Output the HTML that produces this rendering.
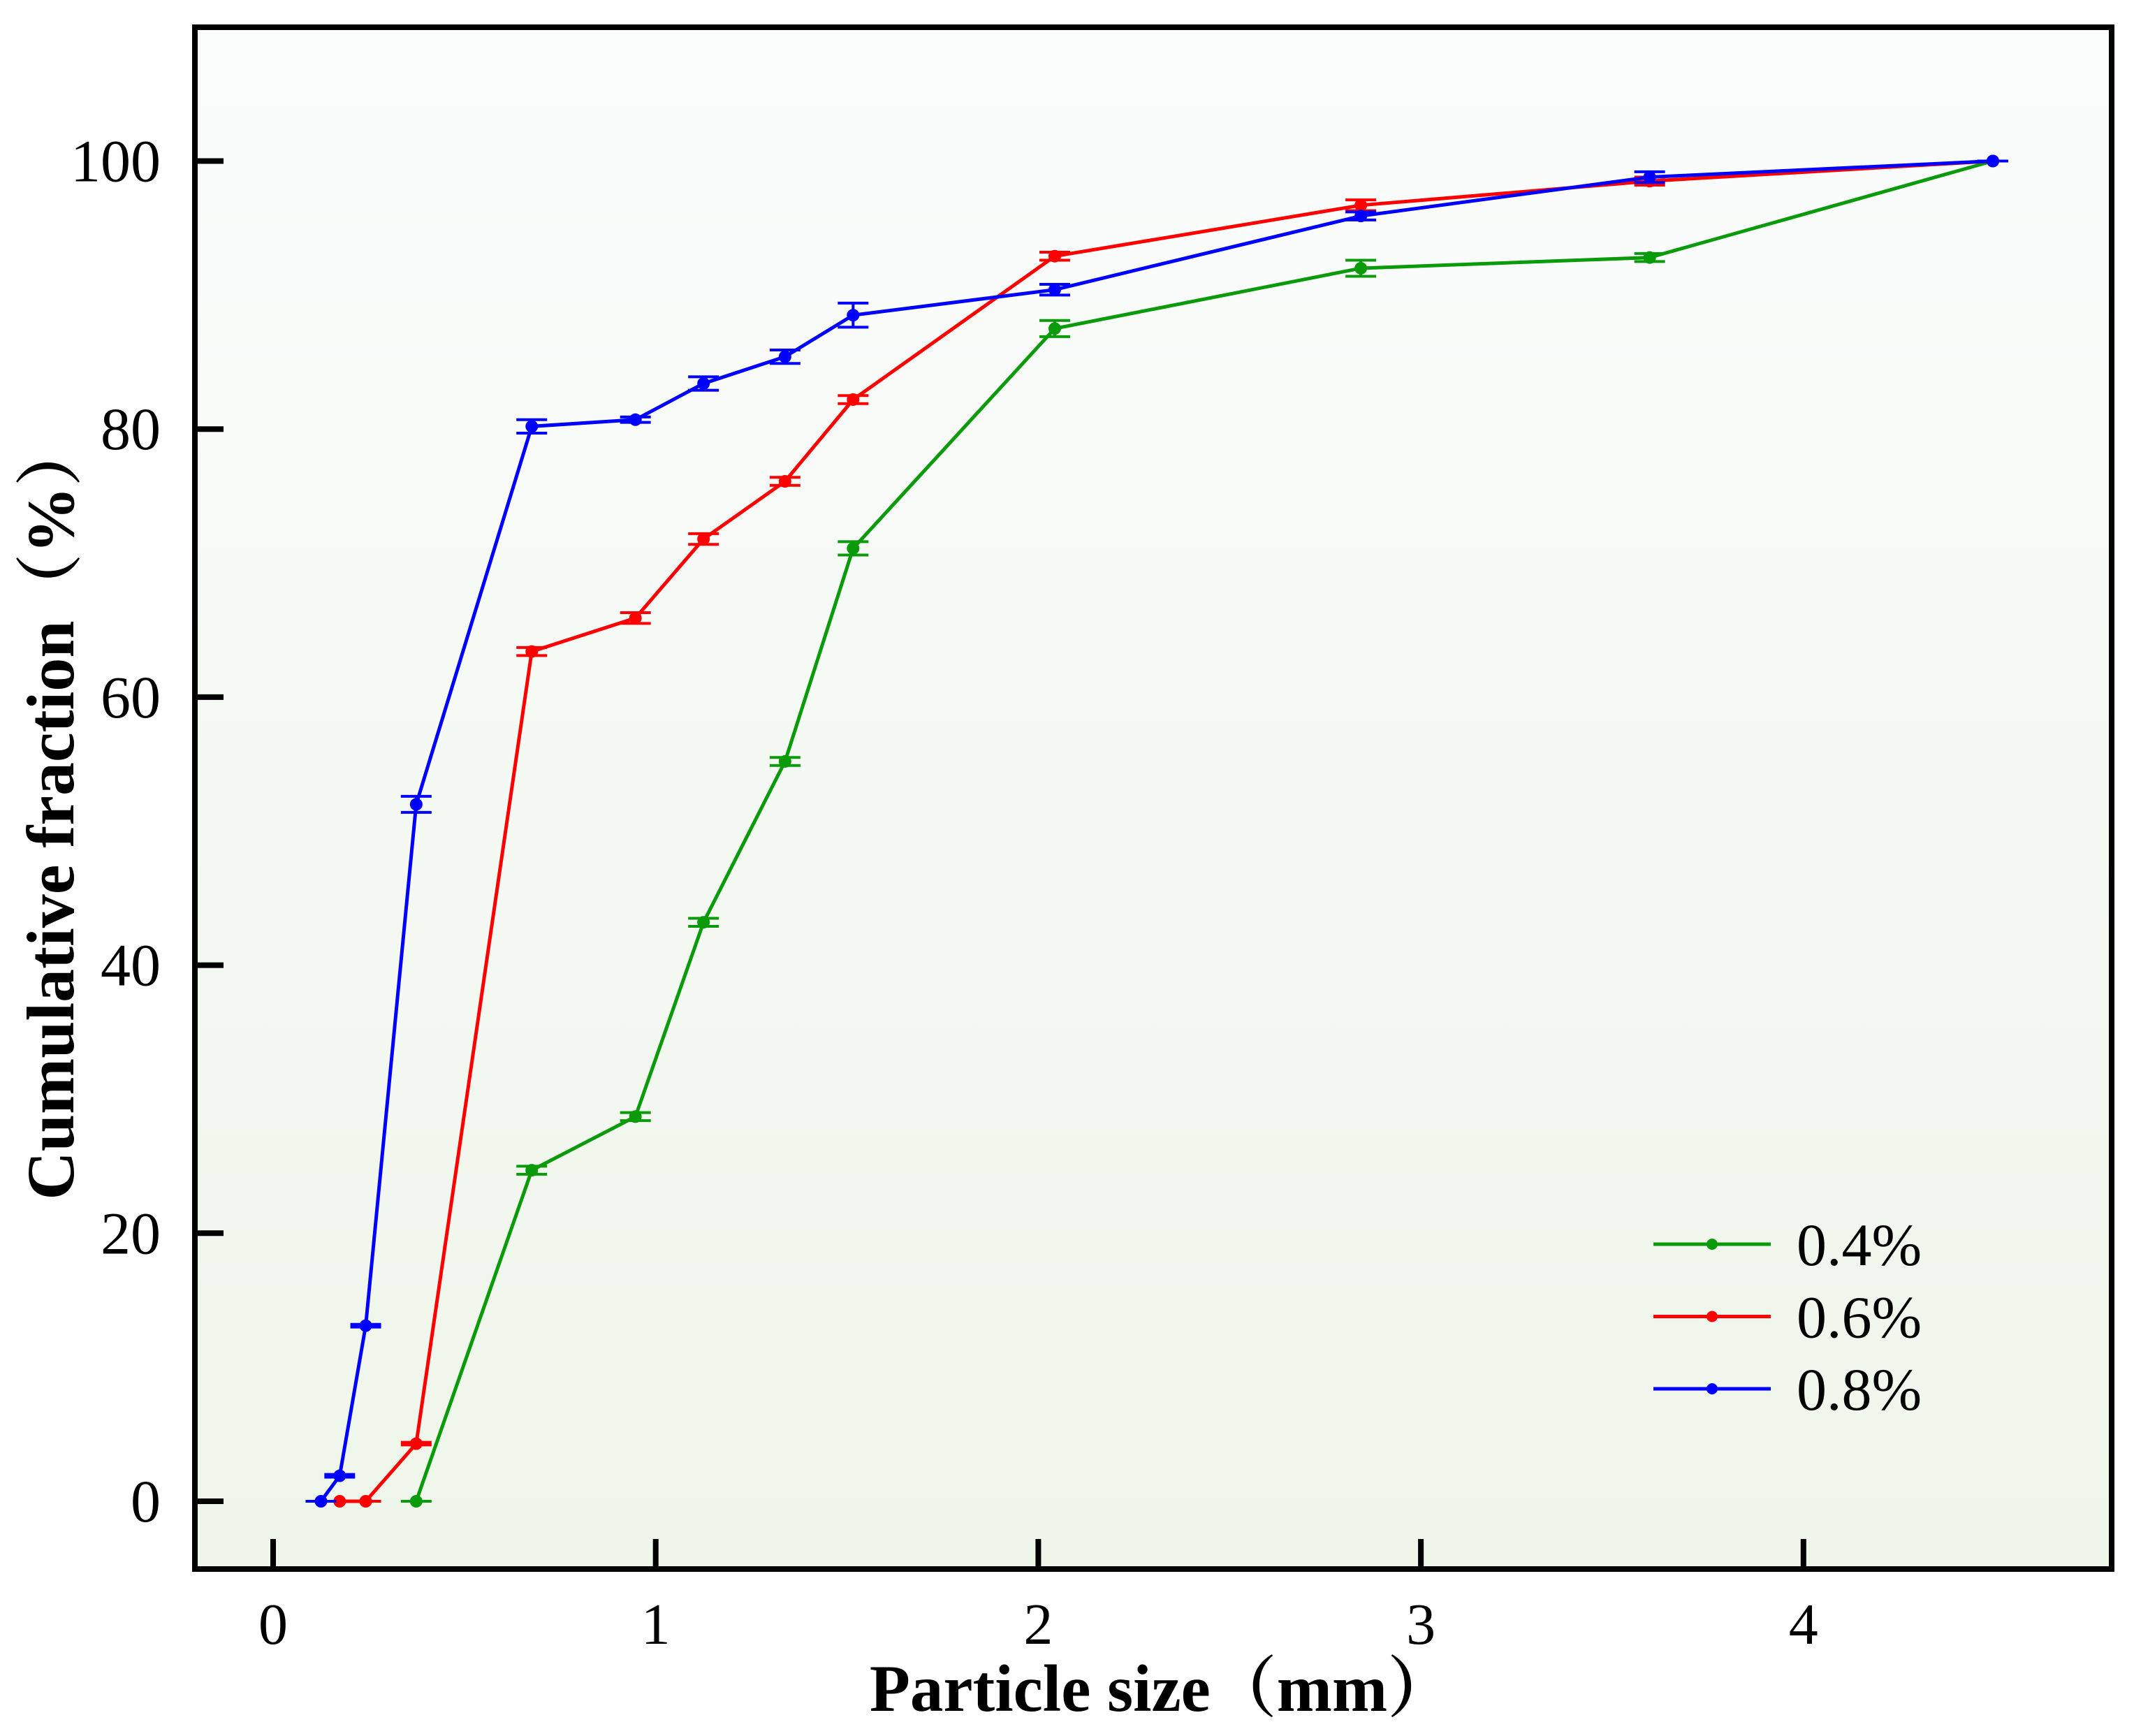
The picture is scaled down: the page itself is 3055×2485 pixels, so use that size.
<!DOCTYPE html>
<html><head><meta charset="utf-8"><style>
html,body{margin:0;padding:0;background:#fff;}
svg{display:block;}
text{font-family:"Liberation Serif","Noto Serif CJK SC",serif;}
</style></head><body>
<svg id="chart" width="3055" height="2485" viewBox="0 0 3055 2485" xmlns="http://www.w3.org/2000/svg">
<defs><linearGradient id="bg" x1="0" y1="0" x2="0" y2="1"><stop offset="0" stop-color="#fbfdfd"/><stop offset="1" stop-color="#eef5e9"/></linearGradient></defs>
<rect x="279" y="39" width="2744" height="2207" fill="url(#bg)"/>
<g id="marks"></g>
<g id="axes"></g>
<rect x="279" y="39" width="2744" height="2207" fill="none" stroke="#000" stroke-width="8"/>
<text x="1663" y="2449" font-size="95" font-weight="bold" text-anchor="middle">Particle size（mm）</text>
<text transform="translate(105,1159) rotate(-90)" font-size="96" font-weight="bold" text-anchor="middle">Cumulative fraction（%）</text>
<g id="legend"></g>
</svg>
<script>
const seriesNames = ["0.4%", "0.6%", "0.8%"];
const seriesColors = ["#0a9a0a", "#ff0000", "#0000ff"];
const xTicks = [0, 1, 2, 3, 4];
const yTicks = [0, 20, 40, 60, 80, 100];
const greenX = [0.374, 0.676, 0.947, 1.125, 1.338, 1.516, 2.043, 2.843, 3.598, 4.495];
const greenY = [0, 24.7, 28.7, 43.2, 55.2, 71.1, 87.5, 92.0, 92.8, 100];
const greenErr = [0, 0.3, 0.3, 0.3, 0.3, 0.5, 0.6, 0.6, 0.3, 0];
const redX = [0.174, 0.242, 0.374, 0.676, 0.947, 1.125, 1.338, 1.516, 2.043, 2.843, 3.598, 4.495];
const redY = [0, 0, 4.3, 63.4, 65.9, 71.8, 76.1, 82.2, 92.9, 96.7, 98.5, 100];
const redErr = [0, 0, 0.1, 0.3, 0.4, 0.4, 0.3, 0.3, 0.3, 0.4, 0.3, 0];
const blueX = [0.125, 0.174, 0.242, 0.374, 0.676, 0.947, 1.125, 1.338, 1.516, 2.043, 2.843, 3.598, 4.495];
const blueY = [0, 1.9, 13.1, 52.0, 80.2, 80.7, 83.4, 85.4, 88.5, 90.4, 95.9, 98.8, 100];
const blueErr = [0, 0.1, 0.1, 0.6, 0.5, 0.2, 0.5, 0.5, 0.9, 0.4, 0.3, 0.4, 0];

const NS = "http://www.w3.org/2000/svg";
function xs(v){ return 391 + v * 547.7; }
function ys(v){ return 2149 - v * 19.185; }
function mk(tag, attrs, parent){ const e = document.createElementNS(NS, tag); for (const k in attrs) e.setAttribute(k, attrs[k]); parent.appendChild(e); return e; }

const axes = document.getElementById('axes');
xTicks.forEach(t => {
  const l = mk('line', {x1: xs(t), x2: xs(t), y1: 2246, y2: 2203, stroke: '#000', 'stroke-width': 8}, axes);
  
  
  const tx = mk('text', {x: xs(t), y: 2353, 'font-size': 84, 'text-anchor': 'middle'}, axes);
  tx.textContent = t;
  
  
});
yTicks.forEach(t => {
  const l = mk('line', {x1: 279, x2: 320, y1: ys(t), y2: ys(t), stroke: '#000', 'stroke-width': 8}, axes);
  
  
  const tx = mk('text', {x: 230, y: ys(t) + 29, 'font-size': 86, 'text-anchor': 'end'}, axes);
  tx.textContent = t;
  
  
});

const marks = document.getElementById('marks');
const allX = [greenX, redX, blueX], allY = [greenY, redY, blueY], allE = [greenErr, redErr, blueErr];
allX.forEach((X, s) => {
  const Y = allY[s], E = allE[s], c = seriesColors[s];
  const g = mk('g', {}, marks);
  
  
  const p = mk('polyline', {points: X.map((x, i) => xs(x) + ',' + ys(Y[i])).join(' '), fill: 'none', stroke: c, 'stroke-width': 5}, g);
  
  
  X.forEach((x, i) => {
    const cx = xs(x), cy = ys(Y[i]), e = E[i];
    const eb = mk('path', {d: `M${cx-22},${ys(Y[i]+e)}H${cx+22}M${cx-22},${ys(Y[i]-e)}H${cx+22}M${cx},${ys(Y[i]+e)}V${ys(Y[i]-e)}`, stroke: c, 'stroke-width': 4, fill: 'none'}, g);
    
    
    const pt = mk('circle', {cx: cx, cy: cy, r: 9, fill: c}, g);
    
    
  });
});

const legend = document.getElementById('legend');
seriesNames.forEach((n, s) => {
  const y = 1781 + s * 103.5;
  const g = mk('g', {}, legend);
  
  
  mk('line', {x1: 2367, x2: 2535, y1: y, y2: y, stroke: seriesColors[s], 'stroke-width': 5}, g);
  mk('circle', {cx: 2451, cy: y, r: 8, fill: seriesColors[s]}, g);
  const t = mk('text', {x: 2572, y: y + 30, 'font-size': 86}, g);
  t.textContent = n;
});
</script>
</body></html>
